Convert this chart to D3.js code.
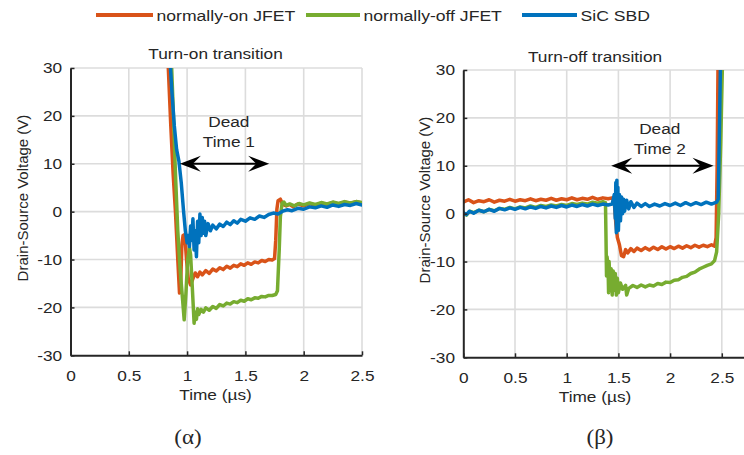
<!DOCTYPE html>
<html>
<head>
<meta charset="utf-8">
<script src="https://cdn.jsdelivr.net/npm/d3@7"></script>
<style>
  html, body { margin: 0; padding: 0; background: #fff; }
  svg { display: block; }
  text { font-family: "Liberation Sans", Arial, sans-serif; fill: #262626; }
</style>
</head>
<body>
<svg id="chart" width="744" height="455"></svg>
<script>
// ---- data -------------------------------------------------------------
const SERIES_NAMES = ["normally-on JFET", "normally-off JFET", "SiC SBD"];
const SERIES_COLORS = ["#D95319", "#77AC30", "#0072BD"];
const X_TICKS = [0, 0.5, 1, 1.5, 2, 2.5];
const Y_TICKS = [-30, -20, -10, 0, 10, 20, 30];

// Turn-on transition: [time (µs), drain-source voltage (V)]
const onJfetTurnOn = [
  [0.83,35],[0.86,18],[0.88,8],[0.90,0],[0.92,-10],[0.935,-17],[0.945,-15],[0.955,-7],
  [0.965,-5],[0.98,-4.8],[0.995,-10],[1.01,-14],[1.03,-15.3],[1.05,-14],[1.07,-12.8],
  [1.09,-13.6],[1.11,-12.6],[1.13,-13.2],[1.16,-12.3],[1.19,-12.9],[1.22,-12],[1.25,-12.4],
  [1.28,-11.7],[1.31,-12.1],[1.34,-11.4],[1.37,-11.8],[1.40,-11.2],[1.43,-11.5],[1.46,-10.9],
  [1.49,-11.2],[1.52,-10.7],[1.55,-11],[1.58,-10.5],[1.61,-10.7],[1.64,-10.2],[1.67,-10.4],
  [1.70,-10],[1.73,-10.1],[1.75,-9.8],[1.76,-6],[1.77,0.5],[1.78,2.3],[1.80,2.6],[1.82,1.5],
  [1.85,1.2],[1.88,1.5],[1.91,1.0],[1.95,1.6],[2.0,1.2],[2.05,1.7],[2.1,1.3],[2.15,1.8],
  [2.2,1.5],[2.25,1.9],[2.3,1.6],[2.35,2.0],[2.4,1.7],[2.45,2.1],[2.5,1.8]
];
const offJfetTurnOn = [
  [0.86,35],[0.88,22],[0.90,8],[0.92,-4],[0.94,-12],[0.96,-18],[0.975,-22.6],[0.99,-17],
  [1.005,-10],[1.02,-7.5],[1.03,-9],[1.045,-16],[1.06,-23.3],[1.07,-21],[1.08,-22.5],
  [1.09,-20.3],[1.10,-21.5],[1.12,-20.4],[1.14,-21],[1.16,-20.1],[1.19,-20.6],[1.22,-19.8],
  [1.25,-20.2],[1.28,-19.4],[1.31,-19.7],[1.34,-19.1],[1.37,-19.3],[1.40,-18.8],[1.43,-19],
  [1.46,-18.5],[1.49,-18.7],[1.52,-18.2],[1.55,-18.4],[1.58,-18],[1.61,-18.1],[1.64,-17.7],
  [1.67,-17.8],[1.70,-17.5],[1.73,-17.5],[1.76,-17.3],[1.775,-16.5],[1.79,-8],[1.80,-1],
  [1.815,1.8],[1.83,2],[1.85,1.3],[1.88,1.6],[1.92,1.2],[1.96,1.7],[2.0,1.4],[2.05,1.8],
  [2.1,1.5],[2.15,1.9],[2.2,1.6],[2.25,2.0],[2.3,1.7],[2.35,2.1],[2.4,1.8],[2.45,2.1],[2.5,1.9]
];
const sbdTurnOn = [
  [0.845,35],[0.87,25],[0.89,18],[0.91,13],[0.93,10.5],[0.95,6],[0.97,0],[0.985,-4],
  [1.0,-6.5],[1.01,-5],[1.02,-7.3],[1.03,-3],[1.04,-6],[1.05,-1.5],[1.06,-8],[1.07,-4],
  [1.08,-9.4],[1.09,-2],[1.10,-6.5],[1.11,-0.5],[1.12,-5],[1.13,-1.2],[1.14,-4.5],[1.15,-2],
  [1.16,-5],[1.18,-2.5],[1.20,-4],[1.22,-2.8],[1.25,-3.6],[1.28,-2.6],[1.31,-3.1],[1.34,-2.2],
  [1.37,-2.7],[1.40,-1.9],[1.43,-2.4],[1.46,-1.6],[1.50,-2],[1.54,-1.3],[1.58,-1.6],[1.62,-0.9],
  [1.66,-1.2],[1.70,-0.6],[1.74,-0.3],[1.78,-0.5],[1.82,0.1],[1.86,0.4],[1.90,0.2],[1.95,0.7],
  [2.0,0.5],[2.05,1.0],[2.1,0.8],[2.15,1.2],[2.2,0.9],[2.25,1.4],[2.3,1.1],[2.35,1.5],
  [2.4,1.3],[2.45,1.7],[2.5,1.4]
];

// Turn-off transition
const onJfetTurnOff = [
  [0,2.4],[0.05,2.9],[0.1,2.3],[0.15,2.7],[0.2,2.5],[0.25,2.9],[0.3,2.4],[0.35,2.8],[0.4,2.6],
  [0.45,3.0],[0.5,2.6],[0.55,2.9],[0.6,2.7],[0.65,3.1],[0.7,2.7],[0.75,3.0],[0.8,2.8],[0.85,3.2],
  [0.9,2.8],[0.95,3.1],[1.0,2.9],[1.05,3.3],[1.1,2.9],[1.15,3.2],[1.2,3.0],[1.25,3.4],[1.3,3.0],
  [1.35,3.3],[1.40,3.1],[1.44,3.3],[1.46,2.5],[1.475,-2],[1.49,-5],[1.51,-6.5],[1.53,-8.8],
  [1.55,-9],[1.57,-7.5],[1.59,-8.2],[1.62,-7.3],[1.65,-7.9],[1.68,-7.2],[1.72,-7.7],[1.76,-7.1],
  [1.80,-7.6],[1.84,-7.0],[1.88,-7.5],[1.92,-6.9],[1.96,-7.4],[2.0,-6.9],[2.04,-7.3],[2.08,-6.8],
  [2.12,-7.2],[2.16,-6.7],[2.20,-7.1],[2.24,-6.6],[2.28,-7.0],[2.32,-6.6],[2.36,-6.9],[2.40,-6.5],
  [2.43,-6.8],[2.445,-5],[2.455,10],[2.465,35]
];
const offJfetTurnOff = [
  [0,0.1],[0.03,-0.3],[0.06,0.5],[0.1,0.2],[0.15,0.7],[0.2,0.4],[0.25,0.9],[0.3,0.6],[0.35,1.1],
  [0.4,0.9],[0.45,1.3],[0.5,1.0],[0.55,1.4],[0.6,1.2],[0.65,1.6],[0.7,1.3],[0.75,1.7],[0.8,1.5],
  [0.85,1.8],[0.9,1.6],[0.95,1.9],[1.0,1.7],[1.05,2.1],[1.1,1.9],[1.15,2.2],[1.2,2.0],[1.25,2.4],
  [1.3,2.2],[1.35,2.5],[1.375,2.3],[1.38,-5],[1.385,-13],[1.39,-9],[1.40,-11],[1.405,-16.5],
  [1.41,-10],[1.42,-15],[1.43,-11.5],[1.44,-17],[1.45,-12],[1.46,-16],[1.47,-12.5],[1.48,-17],
  [1.49,-13.5],[1.50,-16.5],[1.52,-14.5],[1.54,-15.8],[1.57,-15],[1.58,-17],[1.60,-15.6],
  [1.64,-15],[1.68,-15.4],[1.72,-14.9],[1.76,-15.3],[1.80,-14.9],[1.84,-15.1],[1.88,-14.6],
  [1.92,-14.8],[1.96,-14.3],[2.0,-14.4],[2.04,-13.9],[2.08,-13.8],[2.12,-13.3],[2.16,-13.1],
  [2.20,-12.5],[2.24,-12.2],[2.28,-11.6],[2.32,-11.2],[2.36,-10.8],[2.40,-10.5],[2.43,-9.8],
  [2.45,-8],[2.47,0],[2.49,15],[2.51,35]
];
const sbdTurnOff = [
  [0,0.2],[0.03,-0.2],[0.06,0.5],[0.1,0.1],[0.15,0.7],[0.2,0.4],[0.25,0.9],[0.3,0.5],[0.35,1.1],
  [0.4,0.8],[0.45,1.2],[0.5,0.9],[0.55,1.3],[0.6,1.0],[0.65,1.4],[0.7,1.1],[0.75,1.5],[0.8,1.2],
  [0.85,1.6],[0.9,1.3],[0.95,1.7],[1.0,1.4],[1.05,1.8],[1.1,1.5],[1.15,1.9],[1.2,1.6],[1.25,2.0],
  [1.3,1.7],[1.35,2.0],[1.40,1.8],[1.44,2.0],[1.46,4],[1.47,-1],[1.475,6.5],[1.48,-4],[1.485,7],
  [1.49,-2],[1.495,5.5],[1.50,-3.5],[1.51,4],[1.52,-1.5],[1.53,3.5],[1.54,0],[1.55,3],[1.56,0.5],
  [1.58,2.8],[1.60,1],[1.62,2.5],[1.65,1.3],[1.68,2.2],[1.72,1.5],[1.76,2.1],[1.80,1.5],[1.85,2.0],
  [1.90,1.6],[1.95,2.1],[2.0,1.7],[2.05,2.2],[2.1,1.7],[2.15,2.3],[2.2,1.8],[2.25,2.3],[2.3,1.9],
  [2.35,2.4],[2.4,2.0],[2.45,2.4],[2.465,3],[2.475,15],[2.49,35]
];

// Dead-time annotations: [start, end, level] in axis units
const deadTime1 = [0.938, 1.704, 10];
const deadTime2 = [1.43, 2.42, 10];

// ---- drawing ----------------------------------------------------------
const svg = d3.select("#chart");
const SX = 1.15;            // horizontal glyph stretch
const INK = "#262626";

function hText(g, x, y, str, size, anchor, family) {
  const t = g.append("text")
    .attr("transform", `translate(${x},${y}) scale(${SX},1)`)
    .attr("text-anchor", anchor || "middle")
    .style("font-size", size + "px")
    .text(str);
  if (family) t.style("font-family", family);
  return t;
}

function drawPanel(cfg) {
  const x = d3.scaleLinear().domain(cfg.xDomain).range(cfg.xRange);
  const y = d3.scaleLinear().domain([-30, 30]).range([cfg.bottom, cfg.top]);
  const g = svg.append("g");
  const clipId = "clip-" + cfg.id;
  svg.append("clipPath").attr("id", clipId).append("rect")
    .attr("x", cfg.xRange[0]).attr("y", cfg.top)
    .attr("width", cfg.xRange[1] - cfg.xRange[0]).attr("height", cfg.bottom - cfg.top);

  // grid
  g.append("g").selectAll("line").data(X_TICKS.slice(1)).join("line")
    .attr("x1", d => x(d)).attr("x2", d => x(d))
    .attr("y1", cfg.top).attr("y2", cfg.bottom)
    .attr("stroke", "#dcdcdc").attr("stroke-width", 1.6);
  g.append("g").selectAll("line").data(Y_TICKS.slice(1)).join("line")
    .attr("x1", cfg.xRange[0]).attr("x2", cfg.xRange[1])
    .attr("y1", d => y(d)).attr("y2", d => y(d))
    .attr("stroke", "#dcdcdc").attr("stroke-width", 1.6);

  // traces
  const line = d3.line().x(d => x(d[0])).y(d => y(d[1]));
  const traces = g.append("g").attr("clip-path", `url(#${clipId})`);
  cfg.series.forEach((s, i) => {
    traces.append("path").datum(s)
      .attr("d", line).attr("fill", "none")
      .attr("stroke", SERIES_COLORS[i]).attr("stroke-width", 3.5)
      .attr("stroke-linejoin", "round").attr("stroke-linecap", "round");
  });

  // axes (plain hyphen for negative labels)
  const fmt = d => String(d);
  const xAxis = d3.axisBottom(x).tickValues(X_TICKS).tickFormat(fmt).tickSize(-4).tickSizeOuter(0);
  const gx = g.append("g").attr("transform", `translate(0,${cfg.bottom})`).call(xAxis);
  gx.select(".domain").attr("stroke", INK).attr("stroke-width", 2);
  gx.selectAll(".tick line").attr("stroke", INK).attr("stroke-width", 1.5);
  gx.selectAll(".tick text").attr("y", 15).attr("dy", "0.71em")
    .attr("transform", `scale(${SX},1)`)
    .style("font-size", "15px").attr("fill", INK);

  const yAxis = d3.axisLeft(y).tickValues(Y_TICKS).tickFormat(fmt).tickSize(-4).tickSizeOuter(0);
  const gy = g.append("g").attr("transform", `translate(${cfg.xRange[0]},0)`).call(yAxis);
  gy.select(".domain").attr("stroke", INK).attr("stroke-width", 2);
  gy.selectAll(".tick line").attr("stroke", INK).attr("stroke-width", 1.5);
  gy.selectAll(".tick text").attr("x", -8.3 / SX)
    .attr("transform", `scale(${SX},1)`)
    .style("font-size", "15px").attr("fill", INK);

  // titles and labels
  hText(g, cfg.titleX, cfg.titleY, cfg.title, 15);
  hText(g, cfg.titleX, cfg.xLabelY, "Time (\u00b5s)", 15);
  g.append("text")
    .attr("transform", `translate(${cfg.yLabelX},${cfg.yLabelY}) rotate(-90)`)
    .attr("text-anchor", "middle").style("font-size", "15px")
    .text("Drain-Source Voltage (V)");
  hText(g, cfg.captionX, 444, cfg.caption, 20, "middle", "'Liberation Serif', 'Times New Roman', serif");

  // dead-time arrow
  const [a0, a1, lvl] = cfg.dead;
  const ay = y(lvl), ax0 = x(a0), ax1 = x(a1);
  g.append("line").attr("x1", ax0 + 10).attr("x2", ax1 - 10)
    .attr("y1", ay).attr("y2", ay).attr("stroke", "#000").attr("stroke-width", 2);
  const head = (tip, dir) => {
    const L = 21, W = 8, N = 13;
    return `M${tip},${ay} L${tip + dir * L},${ay - W} L${tip + dir * N},${ay} L${tip + dir * L},${ay + W} Z`;
  };
  g.append("path").attr("d", head(ax0, 1)).attr("fill", "#000");
  g.append("path").attr("d", head(ax1, -1)).attr("fill", "#000");
  const cx = x(cfg.deadText[0]);
  hText(g, cx, y(cfg.deadText[1]) + 5.5, "Dead", 15);
  hText(g, cx, y(cfg.deadText[2]) + 5.5, cfg.deadLabel, 15);
}

drawPanel({
  id: "on", xDomain: [0, 2.5], xRange: [70.5, 362], top: 68, bottom: 355.3,
  series: [onJfetTurnOn, offJfetTurnOn, sbdTurnOn],
  title: "Turn-on transition", titleX: 215.5, titleY: 59, xLabelY: 400,
  yLabelX: 28.3, yLabelY: 198, caption: "(\u03b1)", captionX: 188,
  dead: deadTime1, deadText: [1.358, 18.8, 14.6], deadLabel: "Time 1"
});
drawPanel({
  id: "off", xDomain: [0, 2.75], xRange: [463.3, 463.3 + 103.4 * 2.75], top: 70, bottom: 357.3,
  series: [onJfetTurnOff, offJfetTurnOff, sbdTurnOff],
  title: "Turn-off transition", titleX: 595, titleY: 62, xLabelY: 402,
  yLabelX: 430, yLabelY: 200, caption: "(\u03b2)", captionX: 600,
  dead: deadTime2, deadText: [1.90, 17.8, 13.6], deadLabel: "Time 2"
});

// legend
const legendX = [[96, 153], [306, 360], [522, 577]];
const lg = svg.append("g");
SERIES_NAMES.forEach((name, i) => {
  lg.append("line").attr("x1", legendX[i][0]).attr("x2", legendX[i][1])
    .attr("y1", 15).attr("y2", 15)
    .attr("stroke", SERIES_COLORS[i]).attr("stroke-width", 4);
  hText(lg, legendX[i][1] + 3.5, 20.5, name, 15.3, "start");
});
</script>
</body>
</html>
